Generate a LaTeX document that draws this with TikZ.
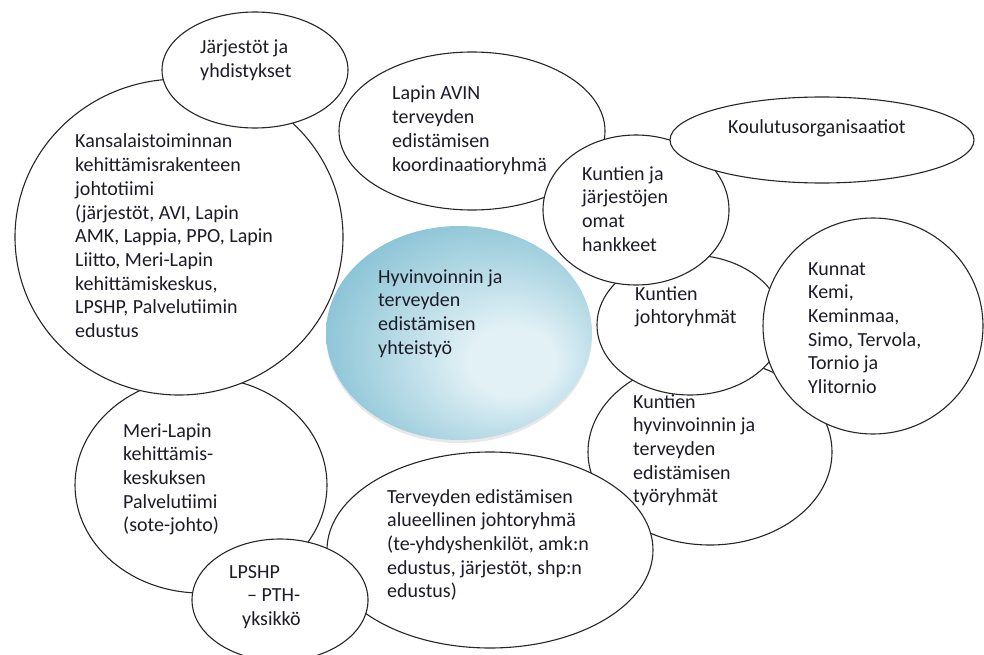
\documentclass[tikz,border=0pt]{standalone}
\usepackage{fontspec}
\setmainfont{Carlito}
\usetikzlibrary{shapes.geometric,shadows}
\definecolor{txt}{RGB}{28,28,40}
\definecolor{cin}{RGB}{226,241,246}
\definecolor{cout}{RGB}{120,186,207}
\pgfdeclareradialshading{cshade}{\pgfpoint{12bp}{-8bp}}{color(0bp)=(cin); color(8bp)=(cin); color(36bp)=(cout); color(50bp)=(cout)}
\newcommand{\mylines}[1]{\begin{tabular}[t]{@{}l@{}}#1\end{tabular}}
\tikzset{
  bubble/.style={ellipse, draw=black!85, line width=1.1pt, fill=white, inner sep=0pt},
  lbl/.style={anchor=base west, inner sep=0pt, text=txt, font=\fontsize{20}{23.7}\selectfont},
}
\begin{document}
\begin{tikzpicture}[x=1pt,y=-1pt]
\useasboundingbox (0,0) rectangle (984,655);
% shapes (bottom to top)
\node[bubble, minimum width=252pt, minimum height=216pt] (meri) at (201,485) {};
\node[bubble, minimum width=328pt, minimum height=316pt] (big) at (179,237) {};
\node[bubble, minimum width=186pt, minimum height=116pt] (jarj) at (255,70) {};
\node[bubble, minimum width=266pt, minimum height=158pt] (avin) at (472,131) {};
\node[bubble, minimum width=244pt, minimum height=186pt] (hyv) at (710,452) {};
\node[bubble, minimum width=186pt, minimum height=140pt] (johto) at (690,325) {};
\node[bubble, minimum width=186pt, minimum height=150pt] (hank) at (636,210) {};
\node[bubble, minimum width=304pt, minimum height=86pt] (koul) at (822,140) {};
\node[bubble, minimum width=220pt, minimum height=216pt] (kunnat) at (873,326) {};
\node[bubble, minimum width=326pt, minimum height=196pt] (terv) at (490,550) {};
\node[bubble, minimum width=176pt, minimum height=122pt] (lpshp) at (280,600) {};
\node[ellipse, inner sep=0pt, minimum width=266pt, minimum height=214pt, shading=cshade,
      drop shadow={opacity=0.18, shadow xshift=0pt, shadow yshift=-3pt}] (central) at (459,333) {};
% texts
\node[lbl] (tjarj) at (200,54) {\mylines{Järjestöt ja\\yhdistykset}};
\node[lbl] (tbig) at (75,148) {\mylines{Kansalaistoiminnan\\kehittämisrakenteen\\johtotiimi\\(järjestöt, AVI, Lapin\\AMK, Lappia, PPO, Lapin\\Liitto, Meri-Lapin\\kehittämiskeskus,\\LPSHP, Palvelutiimin\\edustus}};
\node[lbl] (tavin) at (392,100) {\mylines{Lapin AVIN\\terveyden\\edistämisen\\koordinaatioryhmä}};
\node[lbl] (tkoul) at (728,134) {Koulutusorganisaatiot};
\node[lbl] (thank) at (582,180) {\mylines{Kuntien ja\\järjestöjen\\omat\\hankkeet}};
\node[lbl] (tcentral) at (378,283) {\mylines{Hyvinvoinnin ja\\terveyden\\edistämisen\\yhteistyö}};
\node[lbl] (tjohto) at (635,300) {\mylines{Kuntien\\johtoryhmät}};
\node[lbl] (tkunnat) at (808,275) {\mylines{Kunnat\\Kemi,\\Keminmaa,\\Simo, Tervola,\\Tornio ja\\Ylitornio}};
\node[lbl] (thyv) at (633,408) {\mylines{Kuntien\\hyvinvoinnin ja\\terveyden\\edistämisen\\työryhmät}};
\node[lbl] (tterv) at (387,503) {\mylines{Terveyden edistämisen\\alueellinen johtoryhmä\\(te-yhdyshenkilöt, amk:n\\edustus, järjestöt, shp:n\\edustus)}};
\node[lbl] (tmeri) at (123,437) {\mylines{Meri-Lapin\\kehittämis-\\keskuksen\\Palvelutiimi\\(sote-johto)}};
\node[lbl] (tlpshp) at (229,578) {\mylines{LPSHP\\\hspace*{18pt}– PTH-\\\hspace*{13pt}yksikkö}};
\end{tikzpicture}
\end{document}
